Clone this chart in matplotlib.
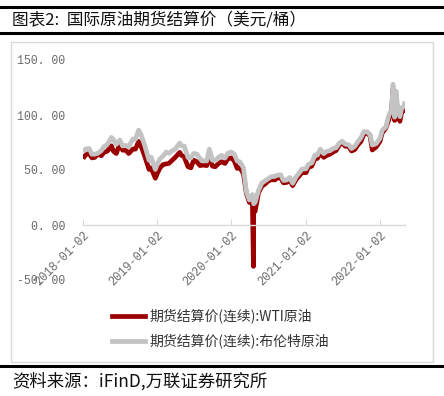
import matplotlib
matplotlib.use("Agg")
import matplotlib.pyplot as plt
import pandas as pd
from matplotlib.patches import Rectangle
from matplotlib.lines import Line2D

plt.rcParams['font.family'] = ['Noto Sans CJK SC', 'DejaVu Sans']

dates = [
    "2018-01-02", "2018-01-16", "2018-02-01", "2018-02-15", "2018-03-01", "2018-03-15",
    "2018-04-02", "2018-04-16", "2018-05-01", "2018-05-22", "2018-06-01", "2018-06-15",
    "2018-07-02", "2018-07-16", "2018-08-01", "2018-08-15", "2018-09-04", "2018-09-17",
    "2018-10-03", "2018-10-16", "2018-11-01", "2018-11-23", "2018-12-03", "2018-12-24",
    "2019-01-02", "2019-01-16", "2019-02-01", "2019-02-15", "2019-03-01", "2019-03-15",
    "2019-04-01", "2019-04-23", "2019-05-01", "2019-05-15", "2019-06-03", "2019-06-17",
    "2019-07-01", "2019-07-16", "2019-08-01", "2019-08-15", "2019-09-03", "2019-09-16",
    "2019-10-01", "2019-10-15", "2019-11-01", "2019-11-15", "2019-12-02", "2019-12-16",
    "2020-01-02", "2020-01-16", "2020-01-31", "2020-02-14", "2020-03-02", "2020-03-16",
    "2020-03-31", "2020-04-15", "2020-04-20", "2020-04-21", "2020-04-28", "2020-05-15",
    "2020-06-01", "2020-06-15", "2020-07-01", "2020-07-15", "2020-08-03", "2020-08-17",
    "2020-09-01", "2020-09-15", "2020-10-01", "2020-10-15", "2020-10-30", "2020-11-16",
    "2020-12-01", "2020-12-15", "2021-01-04", "2021-01-15", "2021-02-01", "2021-02-16",
    "2021-03-01", "2021-03-15", "2021-04-01", "2021-04-15", "2021-05-03", "2021-05-17",
    "2021-06-01", "2021-06-15", "2021-07-01", "2021-07-15", "2021-08-02", "2021-08-16",
    "2021-09-01", "2021-09-15", "2021-10-01", "2021-10-15", "2021-11-01", "2021-11-15",
    "2021-11-26", "2021-12-15", "2022-01-03", "2022-01-14", "2022-02-01", "2022-02-15",
    "2022-03-01", "2022-03-08", "2022-03-16", "2022-03-23", "2022-04-01", "2022-04-11",
    "2022-04-20", "2022-05-02", "2022-05-06",
]
wti = [
    60.4, 64.0, 65.0, 61.0, 61.5, 64.5,
    63.0, 66.2, 67.0, 72.0, 67.0, 65.0,
    74.0, 68.0, 68.0, 65.0, 69.0, 69.0,
    76.0, 71.0, 63.0, 50.5, 52.0, 42.5,
    46.5, 52.0, 55.0, 55.5, 56.0, 58.5,
    61.5, 66.0, 63.5, 62.0, 53.0, 52.0,
    59.0, 57.5, 54.0, 54.5, 54.0, 62.5,
    53.5, 53.0, 56.0, 57.5, 56.0, 60.2,
    61.0, 58.5, 51.5, 52.0, 46.5, 28.7,
    20.5, 19.9, -37.6, 11.6, 12.3, 29.4,
    35.4, 37.1, 39.8, 41.2, 41.0, 42.9,
    42.7, 38.3, 38.7, 41.0, 35.8, 41.4,
    44.6, 47.6, 47.6, 52.4, 53.5, 60.1,
    60.6, 65.4, 61.5, 63.2, 64.5, 66.3,
    67.7, 72.1, 75.2, 71.7, 71.3, 67.3,
    68.6, 72.6, 75.9, 82.3, 84.0, 80.9,
    68.2, 70.9, 76.1, 83.8, 88.2, 95.5,
    103.4, 123.7, 95.0, 114.9, 99.3, 94.3,
    102.8, 105.2, 102.0,
]
brent = [
    66.6, 69.2, 69.6, 64.3, 64.4, 65.1,
    67.6, 71.4, 73.1, 79.6, 77.6, 73.4,
    77.3, 71.8, 72.4, 70.8, 78.2, 78.0,
    86.3, 81.4, 72.9, 58.8, 61.7, 50.5,
    54.9, 60.3, 62.8, 66.3, 65.1, 67.2,
    69.0, 74.5, 72.2, 71.8, 61.3, 60.9,
    65.1, 64.4, 60.5, 58.2, 58.3, 69.0,
    58.9, 58.7, 61.7, 63.3, 60.9, 65.3,
    66.3, 64.6, 58.2, 57.3, 51.9, 30.1,
    22.7, 27.7, 25.6, 19.3, 20.5, 31.5,
    38.3, 40.0, 42.0, 43.8, 44.2, 45.4,
    45.6, 40.5, 40.9, 43.2, 37.9, 43.8,
    47.4, 50.8, 51.1, 55.1, 56.4, 63.4,
    63.7, 68.9, 64.9, 66.9, 67.6, 69.5,
    70.3, 74.0, 76.2, 73.6, 72.9, 69.5,
    71.6, 75.5, 79.3, 84.9, 84.7, 82.1,
    72.7, 73.9, 78.9, 86.1, 89.2, 99.5,
    105.0, 128.0, 98.0, 121.6, 104.4, 98.5,
    106.8, 107.6, 112.4,
]
ytick_vals = [-50, 0, 50, 100, 150]
ytick_labels = ["-50. 00", "0. 00", "50. 00", "100. 00", "150. 00"]
xtick_dates = ["2018-01-02", "2019-01-02", "2020-01-02", "2021-01-02", "2022-01-02"]
title = "图表2:  国际原油期货结算价（美元/桶）"
labels = ["期货结算价(连续):WTI原油", "期货结算价(连续):布伦特原油"]
source = "资料来源：iFinD,万联证券研究所"

W, H = 444, 396
fig = plt.figure(figsize=(W / 100, H / 100), dpi=100)

def fx(px):
    return px / W

def fy(py):
    return 1 - py / H

# decorative frame and rules
fig.add_artist(Rectangle((fx(11), fy(362)), fx(422), 320 / H, transform=fig.transFigure,
                         fill=False, edgecolor="#d9d9d9", linewidth=1))
for yy, lw in [(7, 2.2), (33, 2.2), (366, 2.2)]:
    fig.add_artist(Line2D([0, 1], [fy(yy), fy(yy)], transform=fig.transFigure,
                          color="black", linewidth=lw))

fig.text(fx(12), fy(20), title, fontsize=12, va="center", ha="left", color="#111111")
fig.text(fx(12), fy(381), source, fontsize=12.5, va="center", ha="left",
         style="italic", color="#111111")

ax = fig.add_axes([fx(83), fy(280), fx(322), 220 / H])
d = pd.to_datetime(dates)
ax.plot(d, wti, color="#9b0000", linewidth=3.4, solid_capstyle="butt")
ax.plot(d, brent, color="#c3c3c3", linewidth=3.4, solid_capstyle="butt")

ax.set_ylim(-50, 150)
ax.set_xlim(pd.Timestamp(xtick_dates[0]), d[-1])
ax.set_yticks(ytick_vals)
ax.set_yticklabels(ytick_labels, fontsize=8.3, color="#6b6b6b",
                   family=["Liberation Mono", "DejaVu Sans Mono"])
ax.tick_params(axis="y", length=0, pad=13)

ax.spines["top"].set_visible(False)
ax.spines["right"].set_visible(False)
ax.spines["left"].set_visible(False)
ax.spines["bottom"].set_position(("data", 0))
ax.spines["bottom"].set_color("#d9d9d9")
ax.spines["bottom"].set_linewidth(1)
ax.set_xticks(pd.to_datetime(xtick_dates))
ax.set_xticklabels(xtick_dates, rotation=45, ha="right", rotation_mode="anchor",
                   fontsize=8.6, color="#6b6b6b",
                   family=["Liberation Mono", "DejaVu Sans Mono"])
ax.tick_params(axis="x", length=4, color="#d9d9d9", direction="in", pad=3)
ax.patch.set_alpha(0)

handles = [Line2D([], [], color="#9b0000", linewidth=3.4),
           Line2D([], [], color="#c3c3c3", linewidth=3.4)]
fig.legend(handles, labels, loc="upper left", bbox_to_anchor=(fx(99), fy(296)),
           frameon=False, fontsize=10, handlelength=2.4, handletextpad=0.35,
           labelspacing=0.72, labelcolor="#333333")

fig.savefig("out.png", dpi=100)
